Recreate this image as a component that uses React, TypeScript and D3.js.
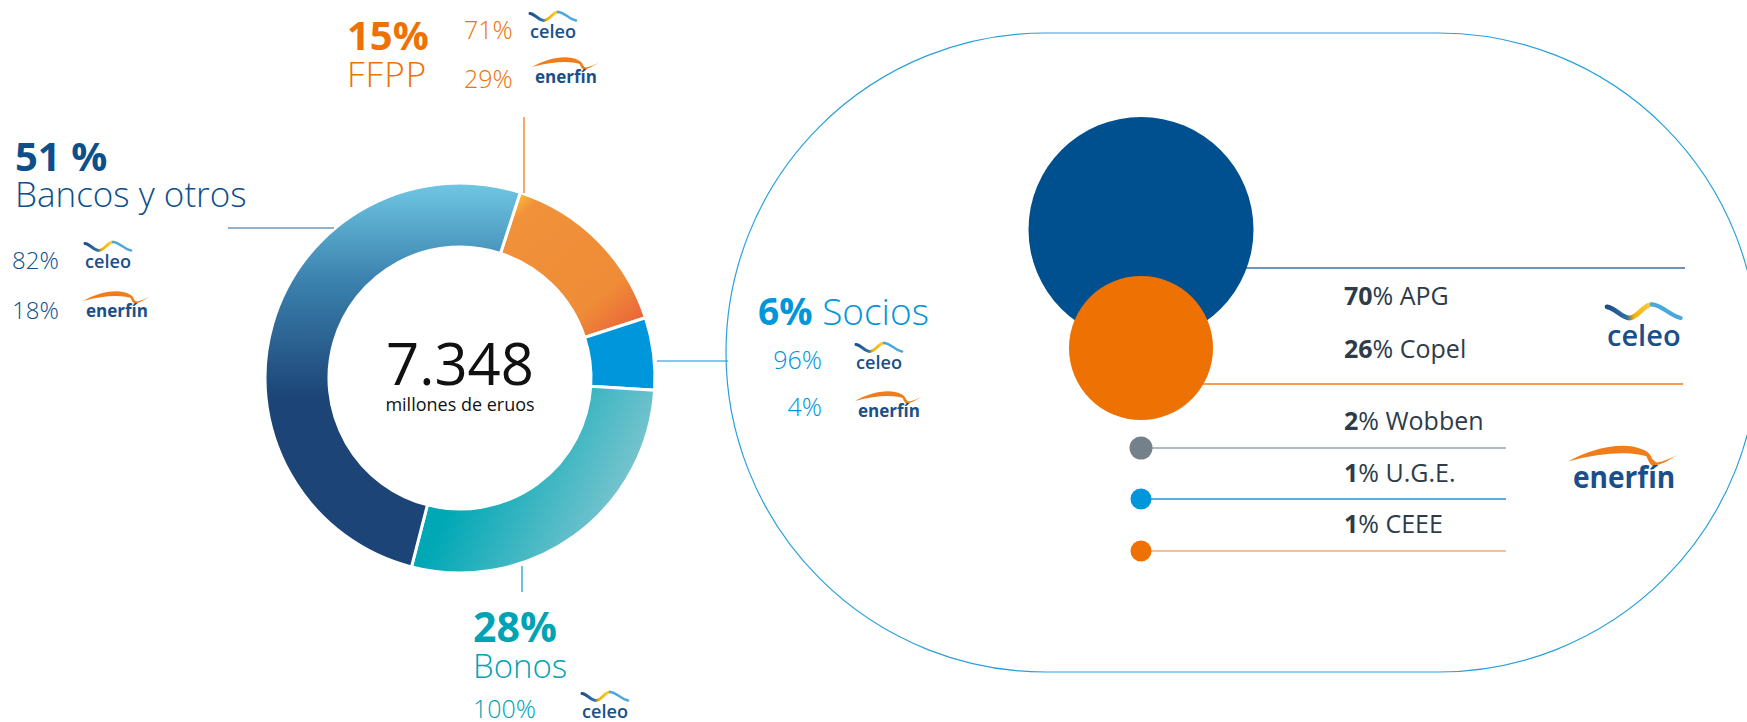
import * as d3 from "d3";

// donut: financing structure
const segments = ["FFPP", "Socios", "Bonos", "Bancos y otros"];
const segmentShares = [15, 6, 28, 51];
const totalLabel = "7.348";
const totalUnit = "millones de eruos";

// company split of each source
const ffppSplit = [71, 29];
const bancosSplit = [82, 18];
const sociosSplit = [96, 4];
const bonosSplit = [100];

// partners
const partners = ["APG", "Copel", "Wobben", "U.G.E.", "CEEE"];
const partnerShares = [70, 26, 2, 1, 1];

const W = 1747;
const H = 722;
const FONT = "'Open Sans', 'Noto Sans', sans-serif";

const NAVY = "#0d4f8b";
const ORANGE = "#ee7203";
const TEAL = "#00a3b4";
const BLUE = "#0096db";
const SLATE = "#2d3c48";

const segFill = ["url(#gFFPP)", BLUE, "url(#gBonos)", "url(#gBancos)"];

function Celeo({ x, y, s = 1 }: { x: number; y: number; s?: number }) {
  return (
    <g transform={`translate(${x},${y}) scale(${s})`}>
      <path
        d="M0,-24.5 C5,-24 9,-17.5 14,-17.5 C19,-17.5 23,-26 28,-26"
        stroke="url(#gCeleoA)"
        strokeWidth={3}
        fill="none"
        strokeLinecap="round"
      />
      <path
        d="M28,-26 C34,-26 39,-19 46,-17.5"
        stroke="#4aa8dc"
        strokeWidth={2.6}
        fill="none"
        strokeLinecap="round"
      />
      <text
        x={0}
        y={0}
        fontSize={18}
        fontWeight={600}
        fill="#1b4f8a"
        textLength={46}
        lengthAdjust="spacingAndGlyphs"
      >
        celeo
      </text>
    </g>
  );
}

function Enerfin({ x, y, s = 1 }: { x: number; y: number; s?: number }) {
  return (
    <g transform={`translate(${x},${y}) scale(${s})`}>
      <path
        d="M0,-16 C14,-24 34,-29 46,-23 C49,-21.5 50,-20 51,-18 C40,-22.5 22,-22 0,-16 Z"
        fill="#f07d1a"
      />
      <path
        d="M46,-23 C50,-19 52,-16 54,-15.5 C58,-16 62,-18 67,-20.5 C61,-17 57,-14 51,-13.5 C49,-15 48,-18 46,-23 Z"
        fill="#f07d1a"
      />
      <text
        x={3}
        y={0}
        fontSize={18}
        fontWeight={700}
        fill="#1b4f8a"
        textLength={62}
        lengthAdjust="spacingAndGlyphs"
      >
        enerfín
      </text>
    </g>
  );
}

export default function App() {
  const cx = 460;
  const cy = 378;
  const outerR = 195;
  const innerR = 131;
  const start = (18 * Math.PI) / 180;

  const pie = d3
    .pie<number>()
    .sort(null)
    .startAngle(start)
    .endAngle(start + 2 * Math.PI);
  const arcs = pie(segmentShares);
  const arc = d3.arc<d3.PieArcDatum<number>>().innerRadius(innerR).outerRadius(outerR);

  // bubbles for the partners
  const rBubble = d3.scalePow().exponent(0.45).domain([0, 70]).range([0, 112.5]);
  const bubbleX = 1141;
  const bubbleY = [229.5, 348];
  const bigLineY = [268, 384];
  const dotY = [448, 499, 551];
  const dotColors = ["#74808a", BLUE, ORANGE];
  const dotLineColors = ["#9aa3aa", "#2a93d0", "#f6ad72"];
  const labelY = [305, 358, 430, 482, 533];
  const labelX = 1344;

  const pctFmt = (v: number) => `${v}%`;

  return (
    <svg
      width={W}
      height={H}
      style={{ position: "absolute", left: 0, top: 0, background: "#fff" }}
      fontFamily={FONT}
    >
      <defs>
        {/* gradients live in the donut group's space (centre at 0,0) */}
        <linearGradient id="gBancos" gradientUnits="userSpaceOnUse" x1={0} y1={-outerR} x2={0} y2={20}>
          <stop offset="0" stopColor="#6fc7e3" />
          <stop offset="0.45" stopColor="#3b82ae" />
          <stop offset="1" stopColor="#1c4477" />
        </linearGradient>
        <linearGradient id="gFFPP" gradientUnits="userSpaceOnUse" x1={45} y1={-190} x2={170} y2={-43}>
          <stop offset="0" stopColor="#ffdf2e" />
          <stop offset="0.16" stopColor="#f1913a" />
          <stop offset="0.75" stopColor="#ef8c37" />
          <stop offset="1" stopColor="#e9623a" />
        </linearGradient>
        <linearGradient id="gBonos" gradientUnits="userSpaceOnUse" x1={10} y1={92} x2={190} y2={182}>
          <stop offset="0" stopColor="#00a8b6" />
          <stop offset="1" stopColor="#a3ced6" />
        </linearGradient>
        <linearGradient id="gCeleoA" x1="0" y1="0" x2="1" y2="0">
          <stop offset="0" stopColor="#1d4e89" />
          <stop offset="0.45" stopColor="#2f6fa8" />
          <stop offset="0.6" stopColor="#f6b000" />
          <stop offset="1" stopColor="#f8cf48" />
        </linearGradient>
      </defs>

      {/* donut */}
      <g transform={`translate(${cx},${cy})`}>
        {arcs.map((a, i) => (
          <path key={segments[i]} d={arc(a) || ""} fill={segFill[i]} stroke="#fff" strokeWidth={3} />
        ))}
      </g>
      <text x={cx} y={385} textAnchor="middle" fontSize={58} fill="#111">
        {totalLabel}
      </text>
      <text x={cx} y={411} textAnchor="middle" fontSize={18} fill="#111">
        {totalUnit}
      </text>

      {/* leader lines */}
      <line x1={524} y1={117} x2={524} y2={193} stroke={ORANGE} strokeWidth={1.2} />
      <line x1={228} y1={228} x2={334} y2={228} stroke="#2a62a0" strokeWidth={1.2} />
      <line x1={522} y1={566} x2={522} y2={592} stroke={TEAL} strokeWidth={1.2} />
      <line x1={657} y1={361} x2={728} y2={361} stroke={BLUE} strokeWidth={1.2} />

      {/* FFPP */}
      <text x={347} y={50} fontSize={40} fontWeight={700} fill={ORANGE}>
        {pctFmt(segmentShares[0])}
      </text>
      <text x={347} y={87} fontSize={35} fontWeight={300} fill={ORANGE} letterSpacing={1}>
        {segments[0]}
      </text>
      <text x={464} y={39} fontSize={25} fontWeight={300} fill={ORANGE}>
        {pctFmt(ffppSplit[0])}
      </text>
      <text x={464} y={88} fontSize={25} fontWeight={300} fill={ORANGE}>
        {pctFmt(ffppSplit[1])}
      </text>
      <Celeo x={530} y={38} />
      <Enerfin x={532} y={83} />

      {/* Bancos */}
      <text x={15} y={171} fontSize={40} fontWeight={700} fill={NAVY}>
        {`${segmentShares[3]} %`}
      </text>
      <text x={15} y={207} fontSize={35} fontWeight={300} fill={NAVY}>
        {segments[3]}
      </text>
      <text x={12} y={269} fontSize={24} fontWeight={300} fill={NAVY}>
        {pctFmt(bancosSplit[0])}
      </text>
      <text x={12} y={319} fontSize={24} fontWeight={300} fill={NAVY}>
        {pctFmt(bancosSplit[1])}
      </text>
      <Celeo x={85} y={268} />
      <Enerfin x={83} y={317} />

      {/* Bonos */}
      <text x={473} y={642} fontSize={41} fontWeight={700} fill={TEAL}>
        {pctFmt(segmentShares[2])}
      </text>
      <text x={473} y={678} fontSize={33} fontWeight={300} fill={TEAL}>
        {segments[2]}
      </text>
      <text x={473} y={718} fontSize={25} fontWeight={300} fill={TEAL}>
        {pctFmt(bonosSplit[0])}
      </text>
      <Celeo x={582} y={718} />

      {/* Socios */}
      <text x={758} y={325} fontSize={37} fill={BLUE}>
        <tspan fontWeight={700}>{pctFmt(segmentShares[1])}</tspan>
        <tspan fontWeight={300}> {segments[1]}</tspan>
      </text>
      <text x={822} y={369} textAnchor="end" fontSize={25} fontWeight={300} fill={BLUE}>
        {pctFmt(sociosSplit[0])}
      </text>
      <text x={822} y={416} textAnchor="end" fontSize={25} fontWeight={300} fill={BLUE}>
        {pctFmt(sociosSplit[1])}
      </text>
      <Celeo x={856} y={369} />
      <Enerfin x={855} y={417} />

      {/* partner panel */}
      <rect x={726} y={33} width={1032} height={639} rx={319.5} fill="none" stroke="#2aa0dc" strokeWidth={1.2} />

      <line x1={bubbleX} y1={bigLineY[0]} x2={1685} y2={bigLineY[0]} stroke="#3a72a8" strokeWidth={1.5} />
      <line x1={bubbleX} y1={bigLineY[1]} x2={1683} y2={bigLineY[1]} stroke="#f07c1e" strokeWidth={1.5} />
      <circle cx={bubbleX} cy={bubbleY[0]} r={rBubble(partnerShares[0])} fill="#004f8f" />
      <circle cx={bubbleX} cy={bubbleY[1]} r={rBubble(partnerShares[1])} fill={ORANGE} />

      {partnerShares.slice(2).map((v, i) => (
        <g key={partners[i + 2]}>
          <line x1={bubbleX} y1={dotY[i]} x2={1506} y2={dotY[i]} stroke={dotLineColors[i]} strokeWidth={1.5} />
          <circle cx={bubbleX} cy={dotY[i]} r={i === 0 ? 11.5 : 10.5} fill={dotColors[i]} />
        </g>
      ))}

      {partners.map((p, i) => (
        <text key={p} x={labelX} y={labelY[i]} fontSize={25} fill={SLATE}>
          <tspan fontWeight={700}>{partnerShares[i]}</tspan>
          <tspan>% {p}</tspan>
        </text>
      ))}

      <Celeo x={1607} y={346} s={1.6} />
      <Enerfin x={1568} y={488} s={1.65} />
    </svg>
  );
}
